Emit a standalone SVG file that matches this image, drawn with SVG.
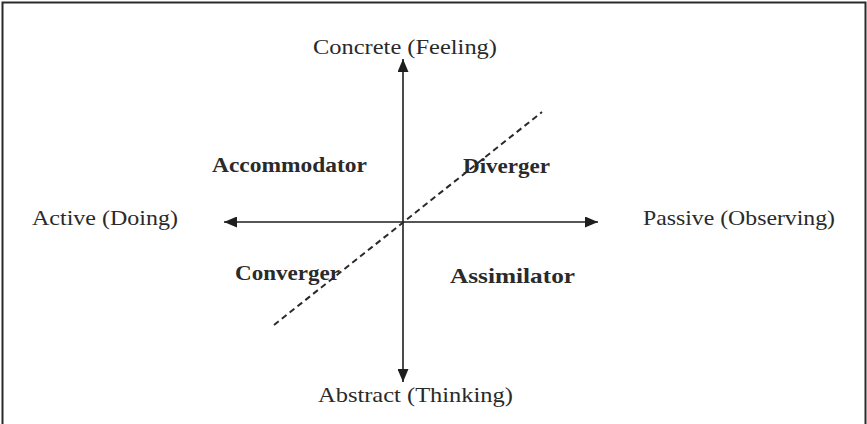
<svg xmlns="http://www.w3.org/2000/svg" width="867" height="424" viewBox="0 0 867 424">
<style>
.lbl{font-family:"Liberation Serif","Times New Roman",serif;font-size:22px;fill:#2a2a2a}
.bold{font-weight:bold}
.axis{stroke:#1e1e1e;stroke-width:1.6;fill:none}
.dash{stroke:#2a2a2a;stroke-width:2;stroke-dasharray:6 4;fill:none}
</style>
<defs>
<marker id="ah" viewBox="0 0 13 11" refX="13" refY="5.5" markerWidth="13" markerHeight="11" markerUnits="userSpaceOnUse" orient="auto">
<path d="M0,0 L13,5.5 L0,11 Z" fill="#1e1e1e"/>
</marker>
</defs>
<rect width="867" height="424" fill="#ffffff"/>
<path d="M2.5,424 L2.5,2.5 L865.5,2.5 L865.5,424" fill="none" stroke="#2a2a2a" stroke-width="2"/>
<g id="connectors">
<line class="axis" x1="403" y1="223" x2="403" y2="59" marker-end="url(#ah)"/>
<line class="axis" x1="403" y1="223" x2="403" y2="382" marker-end="url(#ah)"/>
<line class="axis" x1="403" y1="222" x2="224" y2="222" marker-end="url(#ah)"/>
<line class="axis" x1="403" y1="222" x2="598" y2="222" marker-end="url(#ah)"/>
<line class="dash" x1="274" y1="325" x2="542" y2="112"/>
</g>
<g id="concrete"><text class="lbl" x="313" y="54" textLength="184" lengthAdjust="spacingAndGlyphs">Concrete (Feeling)</text></g>
<g id="abstract"><text class="lbl" x="318" y="402" textLength="195" lengthAdjust="spacingAndGlyphs">Abstract (Thinking)</text></g>
<g id="active"><text class="lbl" x="32" y="225" textLength="146" lengthAdjust="spacingAndGlyphs">Active (Doing)</text></g>
<g id="passive"><text class="lbl" x="643" y="225" textLength="192" lengthAdjust="spacingAndGlyphs">Passive (Observing)</text></g>
<g id="accommodator"><text class="lbl bold" x="212" y="172" textLength="155" lengthAdjust="spacingAndGlyphs">Accommodator</text></g>
<g id="diverger"><text class="lbl bold" x="463" y="173" textLength="87" lengthAdjust="spacingAndGlyphs">Diverger</text></g>
<g id="converger"><text class="lbl bold" x="235" y="280" textLength="105" lengthAdjust="spacingAndGlyphs">Converger</text></g>
<g id="assimilator"><text class="lbl bold" x="450" y="283" textLength="125" lengthAdjust="spacingAndGlyphs">Assimilator</text></g>
</svg>
